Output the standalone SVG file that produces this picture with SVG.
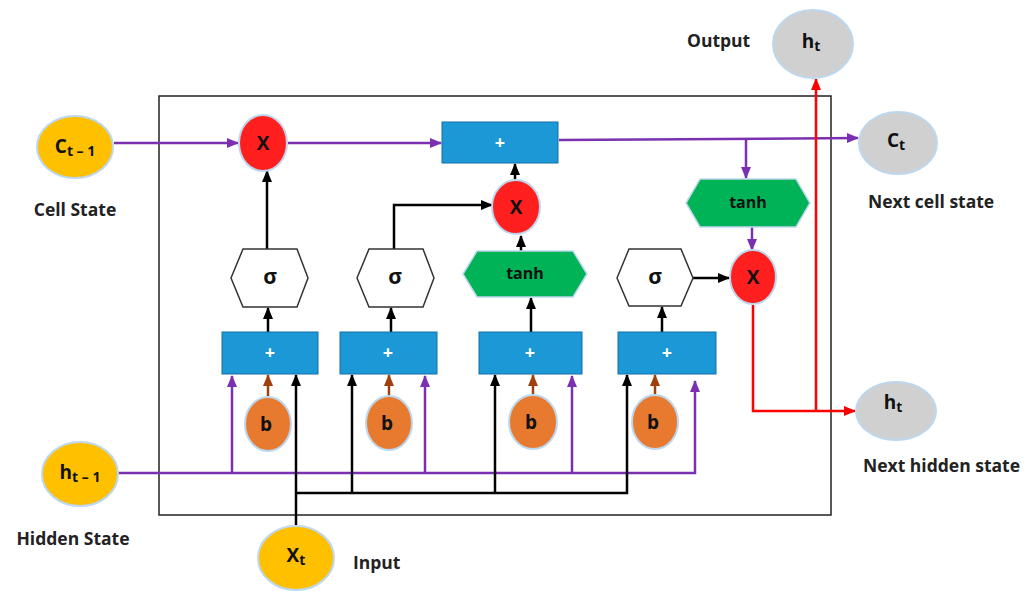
<svg xmlns="http://www.w3.org/2000/svg" width="1035" height="591" viewBox="0 0 1035 591">
<style>
.lbl{font-family:"Open Sans","Liberation Sans",sans-serif;font-weight:bold;font-size:17.5px;fill:#222}
.in{font-family:"Open Sans","Liberation Sans",sans-serif;font-weight:bold;font-size:16px;fill:#111;text-anchor:middle}
.big{font-size:19px}
.pl{font-family:"Open Sans","Liberation Sans",sans-serif;font-weight:bold;font-size:18px;fill:#fff;text-anchor:middle}
.sub{font-size:14px}
.yel{fill:#FFC000;stroke:#BDD7EE;stroke-width:2}
.red{fill:#FF1F1F;stroke:#BDD7EE;stroke-width:2}
.gry{fill:#D0D0D0;stroke:#BDD7EE;stroke-width:2}
.org{fill:#E87A30;stroke:#BDD7EE;stroke-width:2}
.box{fill:#1C98D6;stroke:#1570A8;stroke-width:1}
.grn{fill:#00B356;stroke:#BDD7EE;stroke-width:1.5}
.sig{fill:#fff;stroke:#333;stroke-width:1.5}
.cp{fill:none;stroke:#7A30B0;stroke-width:2.5}
.ck{fill:none;stroke:#000;stroke-width:2.5}
.cb{fill:none;stroke:#A0400A;stroke-width:2.5}
.cr{fill:none;stroke:#FF0000;stroke-width:2.5}
</style>
<defs>
<marker id="ap" markerUnits="userSpaceOnUse" markerWidth="12" markerHeight="12" viewBox="0 0 12 12" refX="11" refY="6" orient="auto"><path d="M0,1 L12,6 L0,11 Z" fill="#7A30B0"/></marker>
<marker id="ak" markerUnits="userSpaceOnUse" markerWidth="12" markerHeight="12" viewBox="0 0 12 12" refX="11" refY="6" orient="auto"><path d="M0,1 L12,6 L0,11 Z" fill="#000"/></marker>
<marker id="ab" markerUnits="userSpaceOnUse" markerWidth="12" markerHeight="12" viewBox="0 0 12 12" refX="11" refY="6" orient="auto"><path d="M0,1 L12,6 L0,11 Z" fill="#A0400A"/></marker>
<marker id="ar" markerUnits="userSpaceOnUse" markerWidth="12" markerHeight="12" viewBox="0 0 12 12" refX="11" refY="6" orient="auto"><path d="M0,1 L12,6 L0,11 Z" fill="#FF0000"/></marker>
</defs>
<rect width="1035" height="591" fill="#fff"/>
<rect id="cell" x="159" y="96" width="672" height="419" fill="none" stroke="#222" stroke-width="1.5"/>

<g id="connectors">
<path class="cp" d="M114,143 H238" marker-end="url(#ap)"/>
<path class="cp" d="M288,143 H441" marker-end="url(#ap)"/>
<path class="cp" d="M559,140 L858,138" marker-end="url(#ap)"/>
<path class="cp" d="M746,138 V178" marker-end="url(#ap)"/>
<path class="cp" d="M752,227 V250" marker-end="url(#ap)"/>
<path class="cp" d="M118,473 H695 V381" marker-end="url(#ap)"/>
<path class="cp" d="M232,473 V376" marker-end="url(#ap)"/>
<path class="cp" d="M425,473 V376" marker-end="url(#ap)"/>
<path class="cp" d="M572,473 V376" marker-end="url(#ap)"/>

<path class="ck" d="M267,249 V171" marker-end="url(#ak)"/>
<path class="ck" d="M394,249 V205 H492" marker-end="url(#ak)"/>
<path class="ck" d="M521,251 V236" marker-end="url(#ak)"/>
<path class="ck" d="M515,180 V164" marker-end="url(#ak)"/>
<path class="ck" d="M268,332 V308" marker-end="url(#ak)"/>
<path class="ck" d="M391,332 V308" marker-end="url(#ak)"/>
<path class="ck" d="M531,332 V298" marker-end="url(#ak)"/>
<path class="ck" d="M662,332 V307" marker-end="url(#ak)"/>
<path class="ck" d="M693,278 H729" marker-end="url(#ak)"/>
<path class="ck" d="M296,527 V375" marker-end="url(#ak)"/>
<path class="ck" d="M296,493 H627 V375" marker-end="url(#ak)"/>
<path class="ck" d="M352,493 V375" marker-end="url(#ak)"/>
<path class="ck" d="M495,493 V375" marker-end="url(#ak)"/>

<path class="cb" d="M268,397 V375" marker-end="url(#ab)"/>
<path class="cb" d="M389,397 V375" marker-end="url(#ab)"/>
<path class="cb" d="M533,396 V375" marker-end="url(#ab)"/>
<path class="cb" d="M655,396 V375" marker-end="url(#ab)"/>

<path class="cr" d="M753,305 V411 H855" marker-end="url(#ar)"/>
<path class="cr" d="M816,411 V79" marker-end="url(#ar)"/>
</g>

<g id="c_prev"><ellipse class="yel" cx="75" cy="147" rx="38" ry="31"/><text class="in big" x="75" y="153">C<tspan class="sub" dy="3">t – 1</tspan></text></g>
<text class="lbl" x="75" y="216" text-anchor="middle">Cell State</text>

<g id="h_prev"><ellipse class="yel" cx="80" cy="474" rx="38" ry="32"/><text class="in big" x="80" y="479">h<tspan class="sub" dy="3">t – 1</tspan></text></g>
<text class="lbl" x="73" y="545" text-anchor="middle">Hidden State</text>

<g id="x_t"><ellipse class="yel" cx="296" cy="558" rx="38" ry="32"/><text class="in big" x="296" y="562">X<tspan class="sub" dy="3">t</tspan></text></g>
<text class="lbl" x="353" y="569">Input</text>

<g id="mul1"><ellipse class="red" cx="263" cy="143" rx="24" ry="28"/><text class="in big" x="263" y="150">X</text></g>
<g id="mul2"><ellipse class="red" cx="516" cy="207" rx="24" ry="27"/><text class="in big" x="516" y="214">X</text></g>
<g id="mul3"><ellipse class="red" cx="753" cy="277" rx="23" ry="27"/><text class="in big" x="753" y="284">X</text></g>

<g id="add_c"><rect class="box" x="442" y="122" width="116" height="41"/><text class="pl" x="500" y="149">+</text></g>

<g id="tanh_c"><polygon class="grn" points="686,203 700,179 796,179 810,203 796,227 700,227"/><text class="in" x="748" y="208">tanh</text></g>

<g id="sig1"><polygon class="sig" points="231,278 243,249 297,249 308,278 297,307 243,307"/><text class="in" x="270" y="284" style="font-size:21px">σ</text></g>
<g id="sig2"><polygon class="sig" points="357,278 369,249 423,249 434,278 423,307 369,307"/><text class="in" x="395" y="284" style="font-size:21px">σ</text></g>
<g id="tanh_g"><polygon class="grn" points="463,274 477,251 573,251 587,274 573,297 477,297"/><text class="in" x="525" y="279">tanh</text></g>
<g id="sig4"><polygon class="sig" points="617,278 629,249 681,249 693,278 681,306 629,306"/><text class="in" x="655" y="284" style="font-size:21px">σ</text></g>

<g id="add1"><rect class="box" x="222" y="332" width="96" height="42"/><text class="pl" x="270" y="359">+</text></g>
<g id="add2"><rect class="box" x="340" y="332" width="97" height="42"/><text class="pl" x="388" y="359">+</text></g>
<g id="add3"><rect class="box" x="479" y="332" width="103" height="42"/><text class="pl" x="530" y="359">+</text></g>
<g id="add4"><rect class="box" x="618" y="332" width="98" height="42"/><text class="pl" x="667" y="359">+</text></g>

<g id="b1"><ellipse class="org" cx="268" cy="424" rx="23" ry="27"/><text class="in big" x="266" y="431">b</text></g>
<g id="b2"><ellipse class="org" cx="389" cy="423" rx="23" ry="27"/><text class="in big" x="387" y="430">b</text></g>
<g id="b3"><ellipse class="org" cx="533" cy="422" rx="24" ry="27"/><text class="in big" x="531" y="429">b</text></g>
<g id="b4"><ellipse class="org" cx="655" cy="422" rx="23" ry="27"/><text class="in big" x="653" y="429">b</text></g>

<g id="out_h"><ellipse class="gry" cx="813" cy="44" rx="40" ry="34"/><text class="in big" x="811" y="48">h<tspan class="sub" dy="3">t</tspan></text></g>
<text class="lbl" x="687" y="47">Output</text>

<g id="c_next"><ellipse class="gry" cx="898" cy="143" rx="39" ry="31"/><text class="in big" x="896" y="147">C<tspan class="sub" dy="3">t</tspan></text></g>
<text class="lbl" x="868" y="208">Next cell state</text>

<g id="h_next"><ellipse class="gry" cx="896" cy="411" rx="40" ry="29"/><text class="in big" x="893" y="409">h<tspan class="sub" dy="3">t</tspan></text></g>
<text class="lbl" x="863" y="472">Next hidden state</text>
</svg>
